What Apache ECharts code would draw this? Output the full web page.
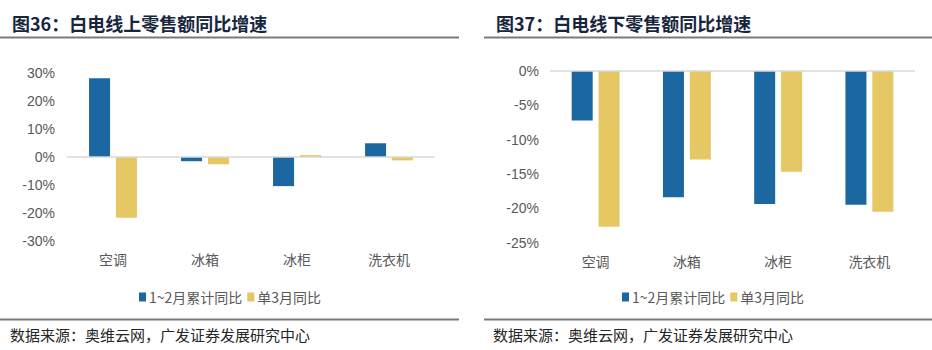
<!DOCTYPE html>
<html><head><meta charset="utf-8">
<script src="https://cdn.jsdelivr.net/npm/echarts@6/dist/echarts.min.js"></script>
<style>html,body{margin:0;padding:0;background:#fff}#c{width:932px;height:350px}</style>
</head><body><div id="c"></div>
<script>
const categories = ['空调', '冰箱', '冰柜', '洗衣机'];
const seriesNames = ['1~2月累计同比', '单3月同比'];
const onlineCum = [28.1, -1.5, -10.4, 4.9];
const onlineMar = [-21.7, -2.6, 0.7, -1.2];
const offlineCum = [-7.2, -18.4, -19.4, -19.5];
const offlineMar = [-22.7, -12.9, -14.7, -20.5];
const titles = ['图36：白电线上零售额同比增速', '图37：白电线下零售额同比增速'];
const source = '数据来源：奥维云网，广发证券发展研究中心';

const BLUE = '#1B67A2', YEL = '#E5C763';
const CJK = '"Noto Sans CJK SC", sans-serif';
const NUM = '"Liberation Sans", Arial, "Noto Sans CJK SC", sans-serif';
const chart = echarts.init(document.getElementById('c'), null, {renderer: 'svg'});

function xAx(i){return {type:'category', gridIndex:i, data:categories, position:'bottom',
  axisLine:{show:false, onZero:false}, axisTick:{show:false},
  axisLabel:{color:'#595959', fontSize:14, fontFamily:CJK, margin:11}};}
function yAx(i,min,max,step,m){return {type:'value', gridIndex:i, min:min, max:max, interval:step,
  axisLine:{show:false}, axisTick:{show:false}, splitLine:{show:false},
  axisLabel:{color:'#595959', fontSize:14, fontFamily:NUM, margin:m, formatter:'{value}%'}};}
const zeroLine = {silent:true, symbol:'none', label:{show:false},
  lineStyle:{color:'#d9d9d9', width:1.5, type:'solid'}, data:[{yAxis:0}], animation:false};
function bar(name, data, i, color, withLine){
  const s = {name:name, type:'bar', xAxisIndex:i, yAxisIndex:i, data:data, barWidth:21, barGap:'28%',
    itemStyle:{color:color}, animation:false};
  if (withLine) s.markLine = zeroLine;
  return s;
}
function legend(left){return {left:left, top:285, itemWidth:7, itemHeight:9, itemGap:5, icon:'rect',
  textStyle:{color:'#595959', fontSize:14, fontFamily:CJK, padding:[0,0,0,-2]}, data:seriesNames};}

const gfx = [];
[[0,459,12,10],[484,932,496,493]].forEach((p,k)=>{
  gfx.push({type:'line', shape:{x1:p[0],y1:37.5,x2:p[1],y2:37.5}, style:{stroke:'#7a7a7a', lineWidth:2}});
  gfx.push({type:'line', shape:{x1:p[0],y1:319.5,x2:p[1],y2:319.5}, style:{stroke:'#7a7a7a', lineWidth:2}});
  gfx.push({type:'text', x:p[2], y:23, style:{text:titles[k], fill:'#17253d', font:'bold 18px '+CJK, textVerticalAlign:'middle'}});
  gfx.push({type:'text', x:p[3], y:334, style:{text:source, fill:'#262626', font:'15px '+CJK, textVerticalAlign:'middle'}});
});

chart.setOption({
  backgroundColor:'#fff',
  animation:false,
  grid:[{left:67, top:73, width:368, height:168}, {left:550, top:71, width:365, height:171.5}],
  xAxis:[xAx(0), xAx(1)],
  yAxis:[yAx(0,-30,30,10,12), yAx(1,-25,0,5,11)],
  legend:[legend(134), legend(617)],
  series:[
    bar(seriesNames[0], onlineCum, 0, BLUE, true),
    bar(seriesNames[1], onlineMar, 0, YEL, false),
    bar(seriesNames[0], offlineCum, 1, BLUE, true),
    bar(seriesNames[1], offlineMar, 1, YEL, false)
  ],
  graphic: gfx
});
</script></body></html>
